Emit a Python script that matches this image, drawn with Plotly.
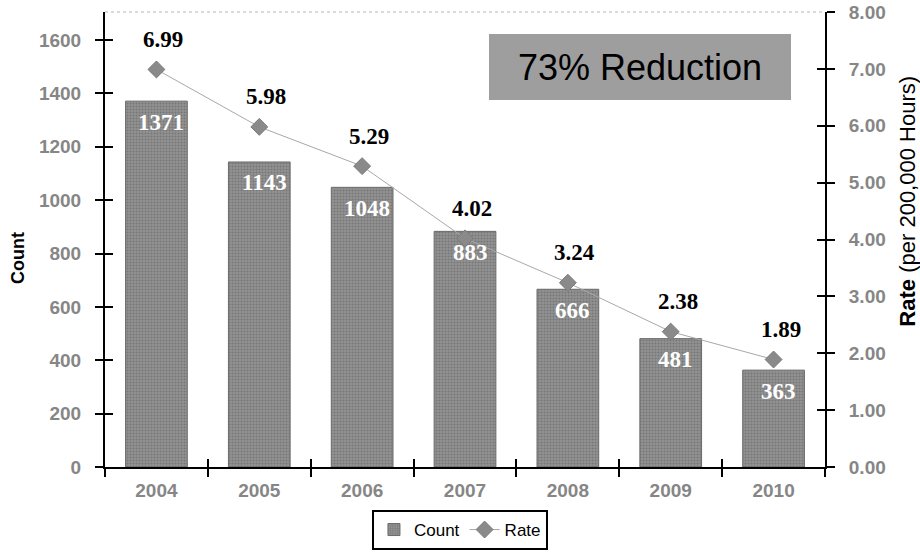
import numpy as np
import plotly.graph_objects as go

years = ["2004", "2005", "2006", "2007", "2008", "2009", "2010"]
counts = [1371, 1143, 1048, 883, 666, 481, 363]
rates = [6.99, 5.98, 5.29, 4.02, 3.24, 2.38, 1.89]
count_ticks = [0, 200, 400, 600, 800, 1000, 1200, 1400, 1600]
rate_ticks = [0, 1, 2, 3, 4, 5, 6, 7, 8]
rate_ticktext = ["%.2f" % v for v in rate_ticks]

LEFT_MAX = 1705
RATE_MAX = 8

tickfont = dict(family="Arial", size=19, color="#868686", weight="bold")
serif = "Liberation Serif, Times New Roman, serif"

fig = go.Figure()

fig.add_trace(go.Bar(
    x=years, y=counts, name="Count", width=0.6,
    marker=dict(
        color="#858585",
        line=dict(color="#6a6a6a", width=1),
        pattern=dict(shape=".", bgcolor="#929292", fgcolor="#5a5a5a", size=3, solidity=0.4),
    ),
    yaxis="y", xaxis="x",
))

fig.add_trace(go.Scatter(
    x=years, y=rates, name="Rate", mode="lines+markers",
    line=dict(color="#a8a8a8", width=1),
    marker=dict(symbol="diamond", size=13, color="#8a8a8a", line=dict(color="#7a7a7a", width=1)),
    yaxis="y2", xaxis="x",
))

annotations = []
for i, c in enumerate(counts):
    annotations.append(dict(
        x=i, y=c, xref="x", yref="y", text="<b>%d</b>" % c, showarrow=False,
        xshift=5, yshift=-21, yanchor="middle", xanchor="center",
        font=dict(family=serif, size=23, color="white"),
    ))
for i, r in enumerate(rates):
    annotations.append(dict(
        x=i, y=r, xref="x", yref="y2", text="<b>%.2f</b>" % r, showarrow=False,
        xshift=7, yshift=30, yanchor="middle", xanchor="center",
        font=dict(family=serif, size=23, color="black"),
    ))
annotations.append(dict(
    x=0.743, y=0.879, xref="paper", yref="paper", text="73% Reduction", showarrow=False,
    xanchor="center", yanchor="middle", width=300, height=64,
    bgcolor="#9e9e9e", borderwidth=0,
    font=dict(family="Arial", size=36, color="black"),
))
# axis titles
annotations.append(dict(
    x=-0.121, y=0.459, xref="paper", yref="paper", text="<b>Count</b>", showarrow=False,
    textangle=-90, xanchor="center", yanchor="middle",
    font=dict(family="Arial", size=18, color="black"),
))
annotations.append(dict(
    x=1.115, y=0.585, xref="paper", yref="paper", text="<b>Rate</b> (per 200,000 Hours)",
    showarrow=False, textangle=-90, xanchor="center", yanchor="middle",
    font=dict(family="Arial", size=22, color="black"),
))

axis_common = dict(showline=True, linecolor="black", linewidth=2, ticks="outside",
                   tickcolor="black", tickwidth=2, ticklen=8, showgrid=False, zeroline=False)

fig.update_layout(
    width=920, height=554,
    margin=dict(l=105, r=95, t=12, b=87, autoexpand=False),
    paper_bgcolor="white", plot_bgcolor="white",
    showlegend=True,
    legend=dict(orientation="h", x=0.493, xanchor="center", y=-0.1824, yanchor="bottom",
                bordercolor="black", borderwidth=2, bgcolor="white",
                font=dict(family="Arial", size=17, color="black"),
                itemwidth=30, tracegroupgap=0, traceorder="normal"),
    xaxis=dict(type="category", tickson="boundaries", range=[-0.5, len(years) - 0.5],
               tickfont=tickfont, ticklabelstandoff=5, **axis_common),
    xaxis2=dict(overlaying="x", anchor="y", type="linear", range=[-0.5, len(years) - 0.5],
                tickvals=list(np.arange(len(years) + 1) - 0.5), ticks="inside", ticklen=8,
                tickwidth=2, tickcolor="black", showticklabels=False, showline=False,
                showgrid=False, zeroline=False, side="bottom"),
    yaxis=dict(range=[0, LEFT_MAX], tickvals=count_ticks, tickfont=tickfont,
               ticklabelstandoff=10, **axis_common),
    yaxis3=dict(overlaying="y", anchor="x", side="left", range=[0, LEFT_MAX], tickvals=count_ticks,
                ticks="inside", ticklen=8, tickwidth=2, tickcolor="black",
                showticklabels=False, showline=False, showgrid=False, zeroline=False),
    yaxis2=dict(overlaying="y", side="right", anchor="x", range=[0, RATE_MAX], tickvals=rate_ticks,
                ticktext=rate_ticktext, tickfont=tickfont, ticklabelstandoff=10,
                **axis_common),
    yaxis4=dict(overlaying="y", side="right", anchor="x", range=[0, RATE_MAX], tickvals=rate_ticks,
                ticks="inside", ticklen=8, tickwidth=2, tickcolor="black",
                showticklabels=False, showline=False, showgrid=False, zeroline=False),
    annotations=annotations,
    shapes=[dict(type="line", xref="paper", yref="paper", x0=0, x1=1, y0=1, y1=1,
                 line=dict(color="#d0d0d0", width=1.5, dash="dot"), layer="below")],
)

# invisible traces to activate overlay axes
fig.add_trace(go.Scatter(x=[None], y=[None], xaxis="x2", yaxis="y3", showlegend=False, hoverinfo="skip"))
fig.add_trace(go.Scatter(x=[None], y=[None], xaxis="x", yaxis="y4", showlegend=False, hoverinfo="skip"))

fig.write_html("out.html")
